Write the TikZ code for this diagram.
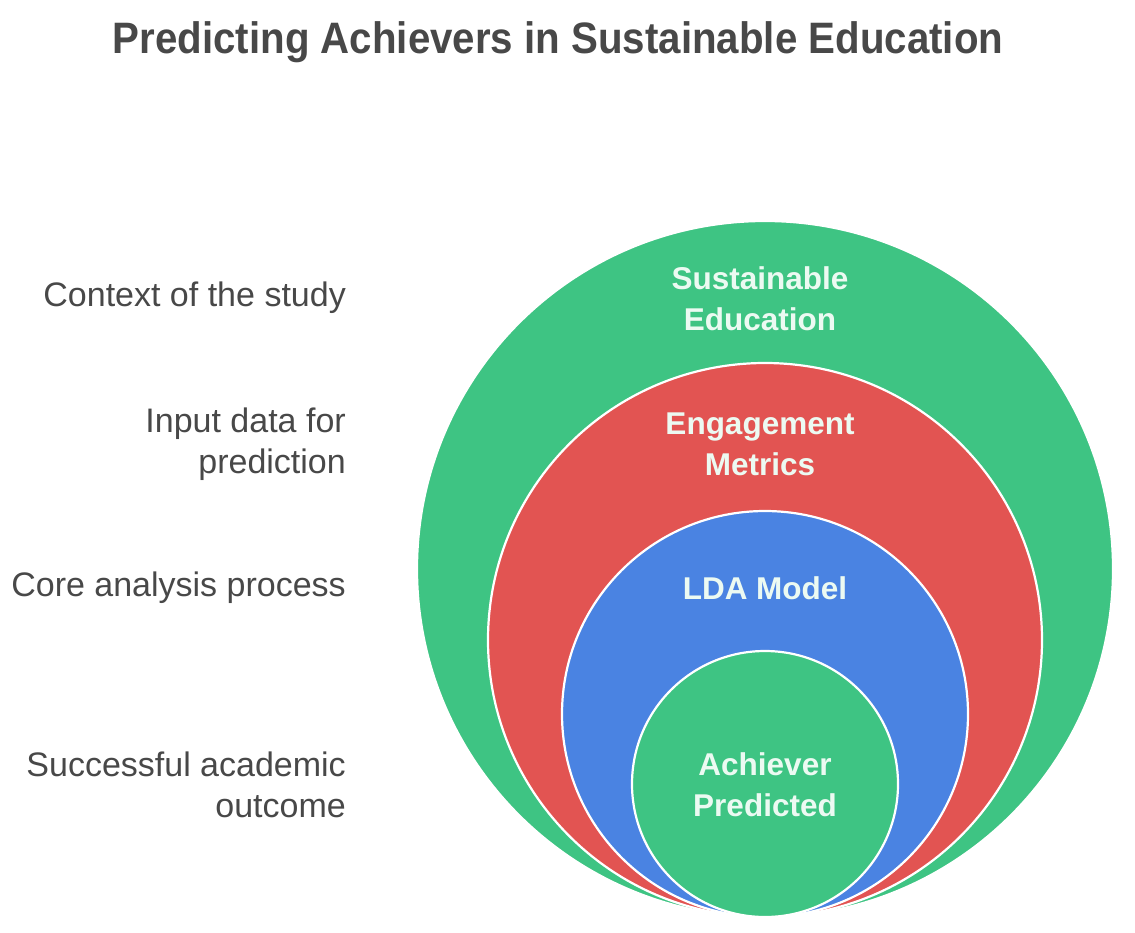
\documentclass[tikz,border=0pt]{standalone}
\usepackage{fontspec}
\setmainfont{Liberation Sans}
\definecolor{cgreen}{RGB}{62,196,131}
\definecolor{cred}{RGB}{226,84,82}
\definecolor{cblue}{RGB}{74,131,226}
\definecolor{ctext}{RGB}{72,72,72}
\definecolor{cin}{RGB}{236,250,242}
\begin{document}
\begin{tikzpicture}[x=1pt,y=-1pt,
  ring/.style={circle,draw=white,line width=2.2pt,inner sep=0pt},
  sidelabel/.style={anchor=east,align=right,inner sep=0pt,text=ctext,font=\fontsize{34}{41}\selectfont},
  inlabel/.style={align=center,inner sep=0pt,text=cin,font=\bfseries\fontsize{31.5}{41}\selectfont},
  titlestyle/.style={inner sep=0pt,text=ctext,font=\bfseries\fontsize{44}{50}\selectfont}]
\useasboundingbox (0,0) rectangle (1135,932);
% rings, all touching at the bottom (y = 917)
\node[ring,fill=cgreen,minimum size=696pt] (outer) at (765,569) {};
\node[ring,fill=cred,minimum size=554pt] (red) at (765,640) {};
\node[ring,fill=cblue,minimum size=406pt] (blue) at (765,714) {};
\node[ring,fill=cgreen,minimum size=266pt] (inner) at (765,784) {};
% title
\node[titlestyle] (title) at (558,42) {\scalebox{0.915}[1]{Predicting Achievers in Sustainable Education}};
% ring labels
\node[inlabel] (t1) at (760,299) {Sustainable\\Education};
\node[inlabel] (t2) at (760,444) {Engagement\\Metrics};
\node[inlabel] (t3) at (765,588) {LDA Model};
\node[inlabel] (t4) at (765,785) {Achiever\\Predicted};
% side labels
\node[sidelabel] (s1) at (346,298) {Context of the study};
\node[sidelabel] (s2) at (346,444) {Input data for\\prediction};
\node[sidelabel] (s3) at (346,588) {Core analysis process};
\node[sidelabel] (s4) at (346,785) {Successful academic\\outcome};
\end{tikzpicture}
\end{document}
